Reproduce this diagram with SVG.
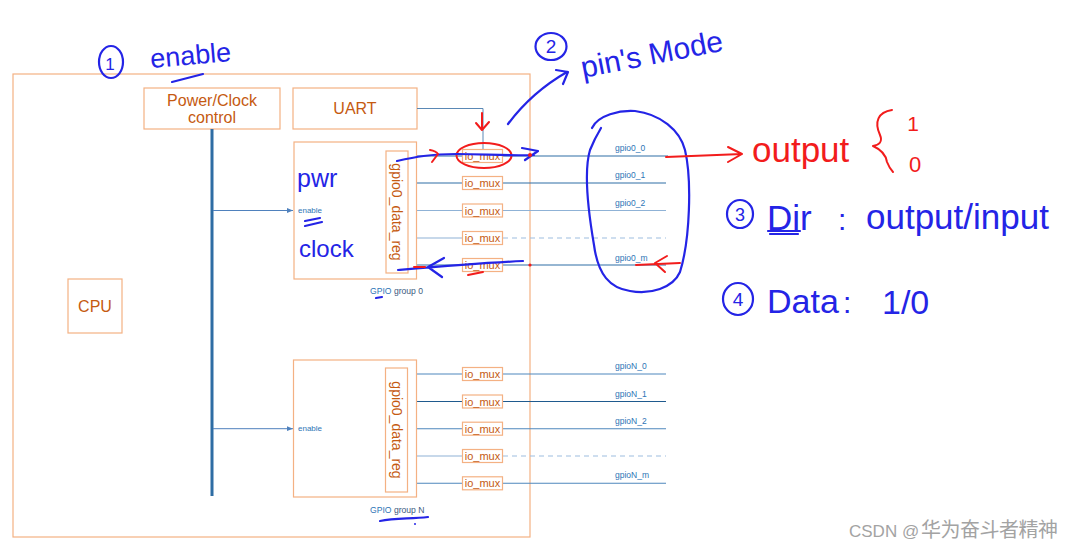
<svg xmlns="http://www.w3.org/2000/svg" width="1074" height="549" viewBox="0 0 1074 549">
<style>
.box{fill:#fff;stroke:#f4b183;stroke-width:1.2}
.lbl{font-family:"Liberation Sans",Arial,sans-serif;fill:#c55a11}
.big{font-size:16px}
.mux{font-size:11px;text-anchor:middle}
.pin{font-family:"Liberation Sans",Arial,sans-serif;font-size:8.5px;fill:#2e75b6}
.en{font-family:"Liberation Sans",Arial,sans-serif;font-size:8px;fill:#2e75b6}
.dk{stroke:#2f6ea5;stroke-width:1.2;fill:none}
.md{stroke:#4f88bd;stroke-width:1.1;fill:none}
.lt{stroke:#8fb2d6;stroke-width:1.1;fill:none}
.ds{stroke:#9dbde0;stroke-width:1.1;fill:none;stroke-dasharray:5 4}
.hb{fill:none;stroke:#2424e6;stroke-width:2.2;stroke-linecap:round;stroke-linejoin:round}
.hr{fill:none;stroke:#f21c1c;stroke-width:2;stroke-linecap:round;stroke-linejoin:round}
.tb{font-family:"Liberation Sans",Arial,sans-serif;fill:#2424e6}
.tr{font-family:"Liberation Sans",Arial,sans-serif;fill:#f21c1c}
</style>
<defs>
<marker id="ah" viewBox="0 0 10 10" refX="10" refY="5" markerWidth="6" markerHeight="6" orient="auto"><path d="M0,1 L10,5 L0,9 z" fill="#4f81bd"/></marker>
</defs>
<rect width="1074" height="549" fill="#fff"/>

<g id="outer"><rect class="box" x="13" y="74" width="517" height="463"/></g>

<g id="power-clock"><rect class="box" x="144" y="88" width="136" height="41"/>
<text class="lbl big" x="212" y="106" text-anchor="middle">Power/Clock</text>
<text class="lbl big" x="212" y="123" text-anchor="middle">control</text></g>

<g id="uart"><rect class="box" x="293" y="88" width="124" height="41"/>
<text class="lbl big" x="355" y="114" text-anchor="middle">UART</text></g>

<g id="cpu"><rect class="box" x="68" y="279" width="54" height="54"/>
<text class="lbl big" x="95" y="312" text-anchor="middle">CPU</text></g>

<g id="connectors">
<line x1="212" y1="129" x2="212" y2="496" stroke="#2e6da4" stroke-width="3"/>
<line x1="213" y1="210.5" x2="293" y2="210.5" stroke="#4f81bd" stroke-width="1" marker-end="url(#ah)"/>
<line x1="213" y1="428.7" x2="293" y2="428.7" stroke="#4f81bd" stroke-width="1" marker-end="url(#ah)"/>
<path d="M417,108.5 H483 V149.5" fill="none" stroke="#5a88b5" stroke-width="1"/>
<!-- group 0 rows -->
<path class="dk" d="M417,156 H462 M503,156 H668"/>
<path class="dk" d="M417,183 H462 M503,183 H666"/>
<path class="lt" d="M417,210.5 H462 M503,210.5 H666"/>
<path class="lt" d="M417,238 H462"/><path class="ds" d="M503,238 H666"/>
<path class="dk" d="M417,265 H462 M503,265 H666"/>
<!-- group N rows -->
<path class="md" d="M417,374 H462 M503,374 H666"/>
<path class="dk" d="M417,401.5 H462 M503,401.5 H666" style="stroke:#1f5a8e"/>
<path class="md" d="M417,428.7 H462 M503,428.7 H666"/>
<path class="lt" d="M417,456 H462"/><path class="ds" d="M503,456 H666"/>
<path class="md" d="M417,483.3 H462 M503,483.3 H666"/>
</g>

<g id="gpio-group-0">
<rect class="box" x="294" y="142" width="122.5" height="137"/>
<rect class="box" x="386" y="151" width="22" height="122"/>
<text class="lbl" font-size="14" transform="translate(392,212) rotate(90)" text-anchor="middle">gpio0_data_reg</text>
<text class="en" x="298" y="213">enable</text>
<text font-family="Liberation Sans,Arial,sans-serif" font-size="8.6" x="370" y="294"><tspan fill="#2e75b6">GPIO</tspan><tspan fill="#3d5a80"> group 0</tspan></text>
</g>

<g id="gpio-group-n">
<rect class="box" x="293.5" y="360" width="123" height="137"/>
<rect class="box" x="385.5" y="368" width="22" height="124"/>
<text class="lbl" font-size="14" transform="translate(391.5,430) rotate(90)" text-anchor="middle">gpio0_data_reg</text>
<text class="en" x="298" y="431">enable</text>
<text font-family="Liberation Sans,Arial,sans-serif" font-size="8.6" x="370" y="513"><tspan fill="#2e75b6">GPIO</tspan><tspan fill="#3d5a80"> group N</tspan></text>
</g>

<g id="io-mux-0">
<rect class="box" x="462.5" y="149.5" width="40" height="13"/><text class="lbl mux" x="482.5" y="160">io_mux</text>
<rect class="box" x="462.5" y="176.5" width="40" height="13"/><text class="lbl mux" x="482.5" y="187">io_mux</text>
<rect class="box" x="462.5" y="204" width="40" height="13"/><text class="lbl mux" x="482.5" y="214.5">io_mux</text>
<rect class="box" x="462.5" y="231.5" width="40" height="13"/><text class="lbl mux" x="482.5" y="242">io_mux</text>
<rect class="box" x="462.5" y="258.5" width="40" height="13"/><text class="lbl mux" x="482.5" y="269">io_mux</text>
</g>
<g id="io-mux-n">
<rect class="box" x="462.5" y="367.5" width="40" height="13"/><text class="lbl mux" x="482.5" y="378">io_mux</text>
<rect class="box" x="462.5" y="395" width="40" height="13"/><text class="lbl mux" x="482.5" y="405.5">io_mux</text>
<rect class="box" x="462.5" y="422.2" width="40" height="13"/><text class="lbl mux" x="482.5" y="432.7">io_mux</text>
<rect class="box" x="462.5" y="449.5" width="40" height="13"/><text class="lbl mux" x="482.5" y="460">io_mux</text>
<rect class="box" x="462.5" y="476.8" width="40" height="13"/><text class="lbl mux" x="482.5" y="487.3">io_mux</text>
</g>

<g id="pin-labels">
<text class="pin" x="615" y="151">gpio0_0</text>
<text class="pin" x="615" y="178">gpio0_1</text>
<text class="pin" x="615" y="205.5">gpio0_2</text>
<text class="pin" x="615" y="260.5">gpio0_m</text>
<text class="pin" x="615" y="369">gpioN_0</text>
<text class="pin" x="615" y="396.5">gpioN_1</text>
<text class="pin" x="615" y="423.7">gpioN_2</text>
<text class="pin" x="615" y="478.3">gpioN_m</text>
</g>

<g id="annotations">
<!-- 1 enable -->
<ellipse class="hb" cx="111" cy="62" rx="12" ry="16"/>
<text class="tb" x="110" y="70" font-size="17" text-anchor="middle">1</text>
<text class="tb" x="151" y="68" font-size="27" transform="rotate(-5 151 68)">enable</text>
<path class="hb" d="M172,82 L203,74"/>
<!-- 2 pin's Mode -->
<ellipse class="hb" cx="551" cy="46.5" rx="15.5" ry="13.5"/>
<text class="tb" x="551" y="53" font-size="19" text-anchor="middle">2</text>
<text class="tb" x="583" y="78" font-size="30" transform="rotate(-11 583 78)">pin's Mode</text>
<path class="hb" d="M508,124 Q532,92 567,72 M556,70 L568,72 L563,84"/>
<!-- red around first io_mux -->
<path class="hr" d="M482,113 L482,130 M476,123 L482,130 L489,122"/>
<ellipse class="hr" cx="484" cy="155.5" rx="27.5" ry="12.5"/>
<path class="hb" d="M397,161 C415,157 430,154 457,154 C485,154 505,156 534,155 M522,148 L538,151 L525,160"/>
<path class="hr" d="M430,150 Q436,151 438,154 L432,162"/>
<circle cx="530" cy="155" r="2" fill="#f21c1c"/>
<!-- bottom arrow -->
<path class="hb" d="M523,261 C480,263 445,266 398,270 M444,258 L428,267 L442,277"/>
<path class="hr" d="M414,267 L425,267 M468,275 L483,272"/>
<circle cx="530" cy="265" r="1.6" fill="#f21c1c"/>
<!-- pwr / clock -->
<text class="tb" x="297" y="187" font-size="25">pwr</text>
<path class="hb" d="M305,221 L320,218 M305,226 L322,222"/>
<text class="tb" x="299" y="257" font-size="24">clock</text>
<path class="hb" d="M376,298 L382,297"/>
<path class="hb" d="M380,521 C395,518 410,519 428,517"/>
<circle cx="415" cy="524" r="1" fill="#2424e6"/>
<!-- big ellipse -->
<path class="hb" d="M592,128 C598,115 620,110 635,111 C660,114 680,130 685,150 C692,180 690,240 680,272 C673,288 650,295 630,291 C610,288 598,275 594,245 C588,210 584,170 590,150 C594,140 598,133 601,128"/>
<!-- output -->
<path class="hr" d="M666,157 L742,154 M728,147 L742,154 L728,162"/>
<text class="tr" x="752" y="162" font-size="35">output</text>
<path class="hr" d="M892,110 C878,112 874,122 880,135 C883,142 879,145 873,146 C882,150 886,156 887,162 C889,167 891,170 893,172"/>
<text class="tr" x="913" y="131" font-size="21" text-anchor="middle">1</text>
<text class="tr" x="915" y="172" font-size="22" text-anchor="middle">0</text>
<!-- red gpio0_m arrow -->
<path class="hr" d="M680,263 L636,265 M667,256 L655,263 L665,272"/>
<!-- 3 Dir -->
<ellipse class="hb" cx="740" cy="214" rx="13" ry="14"/>
<text class="tb" x="740" y="221" font-size="18" text-anchor="middle">3</text>
<text class="tb" x="767" y="230" font-size="35">Dir</text>
<path class="hb" d="M768,231 L800,231 M770,234 L798,234"/>
<text class="tb" x="838" y="230" font-size="30">:</text>
<text class="tb" x="866" y="229" font-size="35">output/input</text>
<!-- 4 Data -->
<ellipse class="hb" cx="738" cy="299" rx="15" ry="16"/>
<text class="tb" x="738" y="306" font-size="19" text-anchor="middle">4</text>
<text class="tb" x="767" y="313" font-size="34">Data</text>
<text class="tb" x="843" y="313" font-size="30">:</text>
<text class="tb" x="882" y="314" font-size="34">1/0</text>
</g>

<g id="watermark">
<text x="849" y="537" font-family="Liberation Sans,Arial,sans-serif" font-size="17" fill="#a3a3a3">CSDN @</text>
<text x="921" y="537" font-family="Noto Sans CJK SC,sans-serif" font-size="20" fill="#a3a3a3" textLength="137">华为奋斗者精神</text>
</g>
</svg>
